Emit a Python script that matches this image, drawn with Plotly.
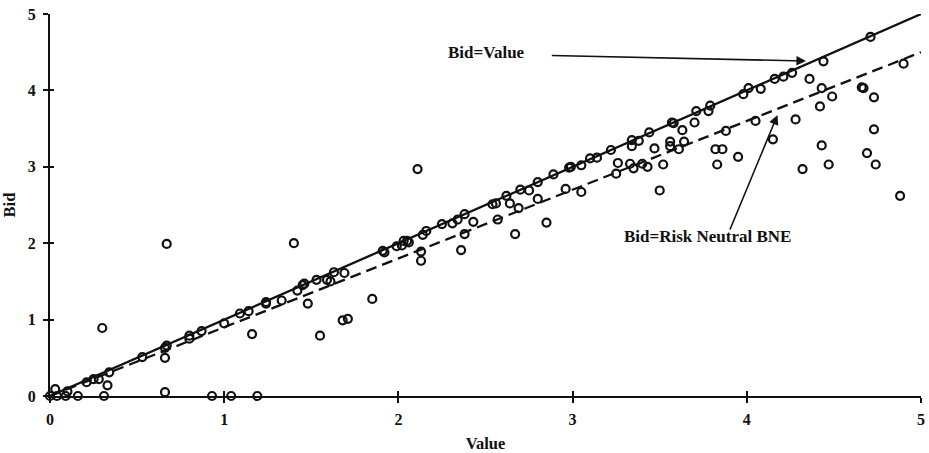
import plotly.graph_objects as go

# Observed (value, bid) pairs
value = [
    0.00, 0.04, 0.09, 0.16, 0.31, 0.66, 0.93, 1.04, 1.19,
    0.03, 0.10, 0.21, 0.25, 0.28, 0.34, 0.33, 0.30,
    0.53, 0.66, 0.67, 0.66, 0.67, 0.80, 0.80, 0.87,
    1.00, 1.09, 1.14, 1.16, 1.24, 1.24, 1.33, 1.40,
    1.42, 1.45, 1.46, 1.48, 1.53, 1.55, 1.59, 1.61,
    1.63, 1.69, 1.68, 1.71, 1.85, 1.91, 1.92, 1.99,
    2.02, 2.03, 2.05, 2.06, 2.13, 2.13, 2.11, 2.14,
    2.16, 2.25, 2.31, 2.34, 2.36, 2.38, 2.38, 2.43,
    2.54, 2.56, 2.57, 2.62, 2.64, 2.67, 2.69, 2.70,
    2.75, 2.80, 2.80, 2.85, 2.89, 2.96, 2.98, 2.99,
    3.05, 3.05, 3.10, 3.14, 3.22, 3.26, 3.25, 3.33,
    3.35, 3.40, 3.43, 3.34, 3.38, 3.34, 3.44, 3.47,
    3.50, 3.52, 3.56, 3.56, 3.57, 3.58, 3.61, 3.63,
    3.64, 3.70, 3.71, 3.78, 3.79, 3.82, 3.86, 3.83,
    3.88, 3.95, 3.98, 4.01, 4.05, 4.08, 4.15, 4.16,
    4.21, 4.26, 4.28, 4.32, 4.36, 4.42, 4.43, 4.43,
    4.44, 4.47, 4.49, 4.66, 4.67, 4.69, 4.71, 4.73,
    4.73, 4.74, 4.88, 4.90,
]
bid = [
    0.00, 0.00, 0.00, 0.00, 0.00, 0.05, 0.00, 0.00, 0.00,
    0.09, 0.06, 0.18, 0.22, 0.22, 0.31, 0.14, 0.89,
    0.51, 0.63, 0.66, 0.50, 1.99, 0.79, 0.75, 0.85,
    0.95, 1.08, 1.11, 0.81, 1.23, 1.21, 1.25, 2.00,
    1.38, 1.45, 1.47, 1.21, 1.52, 0.79, 1.52, 1.50,
    1.62, 1.61, 0.99, 1.01, 1.27, 1.90, 1.88, 1.96,
    1.97, 2.03, 2.03, 2.01, 1.89, 1.77, 2.97, 2.11,
    2.16, 2.25, 2.26, 2.31, 1.91, 2.38, 2.12, 2.28,
    2.51, 2.52, 2.31, 2.62, 2.52, 2.12, 2.46, 2.70,
    2.69, 2.58, 2.80, 2.27, 2.90, 2.71, 2.99, 3.00,
    2.67, 3.02, 3.11, 3.12, 3.22, 3.05, 2.91, 3.04,
    2.98, 3.04, 3.00, 3.35, 3.34, 3.27, 3.45, 3.24,
    2.69, 3.03, 3.33, 3.27, 3.58, 3.57, 3.23, 3.48,
    3.33, 3.58, 3.73, 3.73, 3.80, 3.23, 3.23, 3.03,
    3.47, 3.13, 3.95, 4.03, 3.60, 4.02, 3.36, 4.15,
    4.18, 4.23, 3.62, 2.97, 4.15, 3.79, 4.03, 3.28,
    4.38, 3.03, 3.92, 4.04, 4.03, 3.18, 4.70, 3.91,
    3.49, 3.03, 2.62, 4.35,
]

# Reference bid functions over the value range
line_value = [0, 5]
bid_equals_value = [0, 5]
risk_neutral_bne = [0, 4.5]

tick_vals = [0, 1, 2, 3, 4, 5]
tick_text = ["0", "1", "2", "3", "4", "5"]

SERIF = "Liberation Serif"
INK = "#111111"

fig = go.Figure()

fig.add_trace(go.Scatter(
    x=line_value, y=bid_equals_value, mode="lines",
    line=dict(color=INK, width=2.3), hoverinfo="skip", showlegend=False,
))
fig.add_trace(go.Scatter(
    x=line_value, y=risk_neutral_bne, mode="lines",
    line=dict(color=INK, width=2.3, dash="11px,6px"), hoverinfo="skip", showlegend=False,
))
fig.add_trace(go.Scatter(
    x=value, y=bid, mode="markers", cliponaxis=False,
    marker=dict(symbol="circle-open", size=8, color=INK, line=dict(width=2.2, color=INK)),
    showlegend=False,
))

tick_font = dict(family=SERIF, size=16, color=INK, weight="bold")
title_font = dict(family=SERIF, size=16.5, color=INK, weight="bold")

axis_common = dict(
    range=[0, 5], tickvals=tick_vals, ticktext=tick_text, automargin=False,
    showgrid=False, zeroline=False, showline=True, linecolor=INK, linewidth=2,
    ticks="outside", ticklen=5, tickwidth=2, tickcolor=INK, tickfont=tick_font,
)
companion = dict(
    range=[0, 5], tickvals=tick_vals, showticklabels=False, showgrid=False,
    zeroline=False, showline=False, ticks="inside", ticklen=5, tickwidth=2,
    tickcolor=INK, automargin=False,
)

fig.update_layout(
    width=929, height=453,
    margin=dict(l=50, r=8, t=14, b=57, autoexpand=False),
    paper_bgcolor="white", plot_bgcolor="white",
    xaxis=dict(axis_common, title=dict(text="Value", font=title_font, standoff=16),
               ticklabelstandoff=3),
    yaxis=dict(axis_common, title=dict(text="Bid", font=title_font, standoff=12),
               ticklabelstandoff=4),
    # companion axes supply the inner half of the crossing tick marks
    xaxis2=dict(companion, overlaying="x", anchor="y", side="bottom"),
    yaxis2=dict(companion, overlaying="y", anchor="x", side="left", ticklen=4),
)

# invisible trace to bring the companion axes into the layout
fig.add_trace(go.Scatter(x=[None], y=[None], xaxis="x2", yaxis="y2",
                         showlegend=False, hoverinfo="skip"))

ann_font = dict(family=SERIF, size=17, color=INK, weight="bold")
fig.add_annotation(x=2.505, y=4.50, text="Bid=Value", showarrow=False, font=ann_font)
fig.add_annotation(x=4.34, y=4.385, ax=2.872, ay=4.457, axref="x", ayref="y",
                   text="", showarrow=True, arrowhead=2, arrowsize=1.2,
                   arrowwidth=1.6, arrowcolor=INK)
fig.add_annotation(x=3.772, y=2.094, text="Bid=Risk Neutral BNE", showarrow=False, font=ann_font)
fig.add_annotation(x=4.176, y=3.678, ax=3.90, ay=2.16, axref="x", ayref="y",
                   text="", showarrow=True, arrowhead=2, arrowsize=1.2,
                   arrowwidth=1.6, arrowcolor=INK)

fig.write_html("out.html")
